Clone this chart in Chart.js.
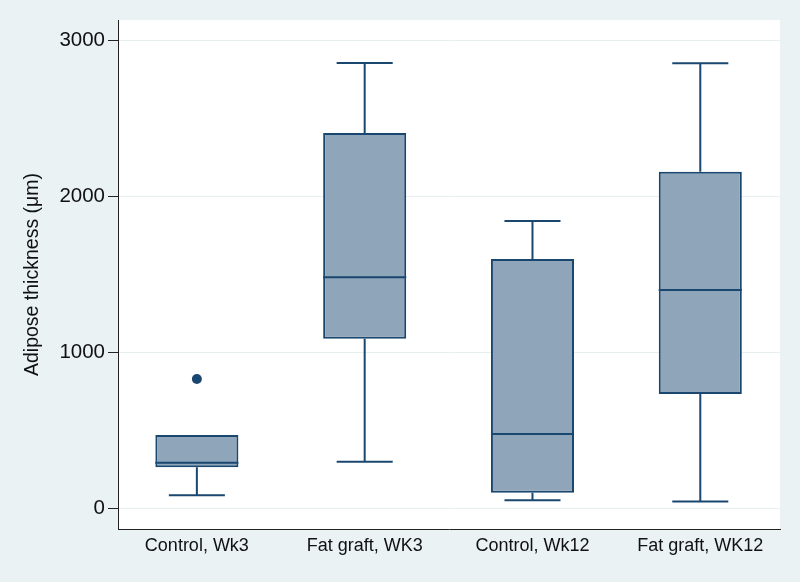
<!DOCTYPE html>
<html lang="en">
<head>
    <meta charset="UTF-8">
    <title>Adipose thickness box plot</title>
    <script src="https://cdn.jsdelivr.net/npm/chart.js"></script>
    <style>
        body { margin: 0; background: #EAF2F3; }
        canvas { display: block; }
    </style>
</head>
<body>
    <canvas id="boxChart" width="800" height="582"></canvas>

    <script>
        // Values
        const categories = ['Control, Wk3', 'Fat graft, WK3', 'Control, Wk12', 'Fat graft, WK12'];
        const whiskerLow = [85, 300, 53, 46];
        const q1 = [264, 1088, 101, 734];
        const median = [294, 1482, 478, 1401];
        const q3 = [471, 2407, 1599, 2159];
        const whiskerHigh = [471, 2856, 1843, 2854];
        const outlierGroup = [0];
        const outlierValue = [830];
        const yTicks = [0, 1000, 2000, 3000];

        const navy = '#1A476F';
        const boxFill = '#8FA5BA';
        const capHalf = 0.167; // half width of the whisker caps, in category units

        // white plot region on the light blue page
        const plotBackground = {
            id: 'plotBackground',
            beforeDraw(chart) {
                const { ctx, chartArea: a } = chart;
                ctx.save();
                ctx.fillStyle = '#EAF2F3';
                ctx.fillRect(0, 0, chart.width, chart.height);
                ctx.fillStyle = '#FFFFFF';
                ctx.fillRect(a.left, a.top, a.right - a.left, a.bottom - a.top);
                ctx.restore();
            }
        };

        // whiskers, caps and medians, placed through the chart scales
        const boxLines = {
            id: 'boxLines',
            afterDatasetsDraw(chart) {
                const { ctx, scales: { x, y } } = chart;
                const bars = chart.getDatasetMeta(0).data;
                ctx.save();
                ctx.strokeStyle = navy;
                ctx.lineWidth = 2;
                categories.forEach((c, i) => {
                    const cx = x.getPixelForValue(i);
                    const cl = x.getPixelForValue(i - capHalf);
                    const cr = x.getPixelForValue(i + capHalf);
                    ctx.beginPath();
                    // upper whisker
                    if (whiskerHigh[i] > q3[i]) {
                        ctx.moveTo(cx, y.getPixelForValue(q3[i]));
                        ctx.lineTo(cx, y.getPixelForValue(whiskerHigh[i]));
                        ctx.moveTo(cl, y.getPixelForValue(whiskerHigh[i]));
                        ctx.lineTo(cr, y.getPixelForValue(whiskerHigh[i]));
                    }
                    // lower whisker
                    ctx.moveTo(cx, y.getPixelForValue(q1[i]));
                    ctx.lineTo(cx, y.getPixelForValue(whiskerLow[i]));
                    ctx.moveTo(cl, y.getPixelForValue(whiskerLow[i]));
                    ctx.lineTo(cr, y.getPixelForValue(whiskerLow[i]));
                    // median
                    const bar = bars[i];
                    ctx.moveTo(bar.x - bar.width / 2, y.getPixelForValue(median[i]));
                    ctx.lineTo(bar.x + bar.width / 2, y.getPixelForValue(median[i]));
                    ctx.stroke();
                });
                ctx.restore();
            }
        };

        const font = 'Liberation Sans, Arial, Helvetica, sans-serif';

        const ctx = document.getElementById('boxChart').getContext('2d');
        new Chart(ctx, {
            type: 'bar',
            data: {
                datasets: [{
                    type: 'bar',
                    data: categories.map((c, i) => ({ x: i, y: [q1[i], q3[i]] })),
                    backgroundColor: boxFill,
                    borderColor: navy,
                    borderWidth: 2,
                    borderSkipped: false,
                    categoryPercentage: 1,
                    barPercentage: 0.495
                }, {
                    type: 'scatter',
                    data: outlierGroup.map((g, k) => ({ x: g, y: outlierValue[k] })),
                    backgroundColor: navy,
                    borderColor: navy,
                    pointRadius: 5,
                    borderWidth: 0
                }]
            },
            options: {
                responsive: false,
                animation: false,
                devicePixelRatio: 1,
                layout: { padding: { top: 20, right: 20, left: 0, bottom: 0 } },
                plugins: {
                    legend: { display: false },
                    tooltip: { enabled: false }
                },
                scales: {
                    x: {
                        type: 'linear',
                        offset: false,
                        min: -0.47,
                        max: 3.475,
                        afterBuildTicks: s => { s.ticks = categories.map((c, i) => ({ value: i })); },
                        afterFit: s => { s.height = 53; },
                        grid: { display: false, drawTicks: false, offset: false },
                        border: { display: true, color: '#222222', width: 1 },
                        ticks: {
                            callback: v => categories[v],
                            padding: 6,
                            color: '#111111',
                            maxRotation: 0,
                            autoSkip: false,
                            font: { family: font, size: 18 }
                        }
                    },
                    y: {
                        min: -131,
                        max: 3131,
                        afterBuildTicks: s => { s.ticks = yTicks.map(v => ({ value: v })); },
                        afterFit: s => { s.width = 118; },
                        grid: {
                            color: '#E8EFF1',
                            lineWidth: 1,
                            tickLength: 10,
                            tickColor: '#222222'
                        },
                        border: { display: true, color: '#222222', width: 1 },
                        ticks: {
                            callback: v => String(v),
                            padding: 3,
                            color: '#111111',
                            font: { family: font, size: 20.5 }
                        },
                        title: {
                            display: true,
                            text: 'Adipose thickness (μm)',
                            color: '#111111',
                            font: { family: font, size: 19.5 },
                            padding: { top: 21, bottom: 0 }
                        }
                    }
                }
            },
            plugins: [plotBackground, boxLines]
        });
    </script>
</body>
</html>
